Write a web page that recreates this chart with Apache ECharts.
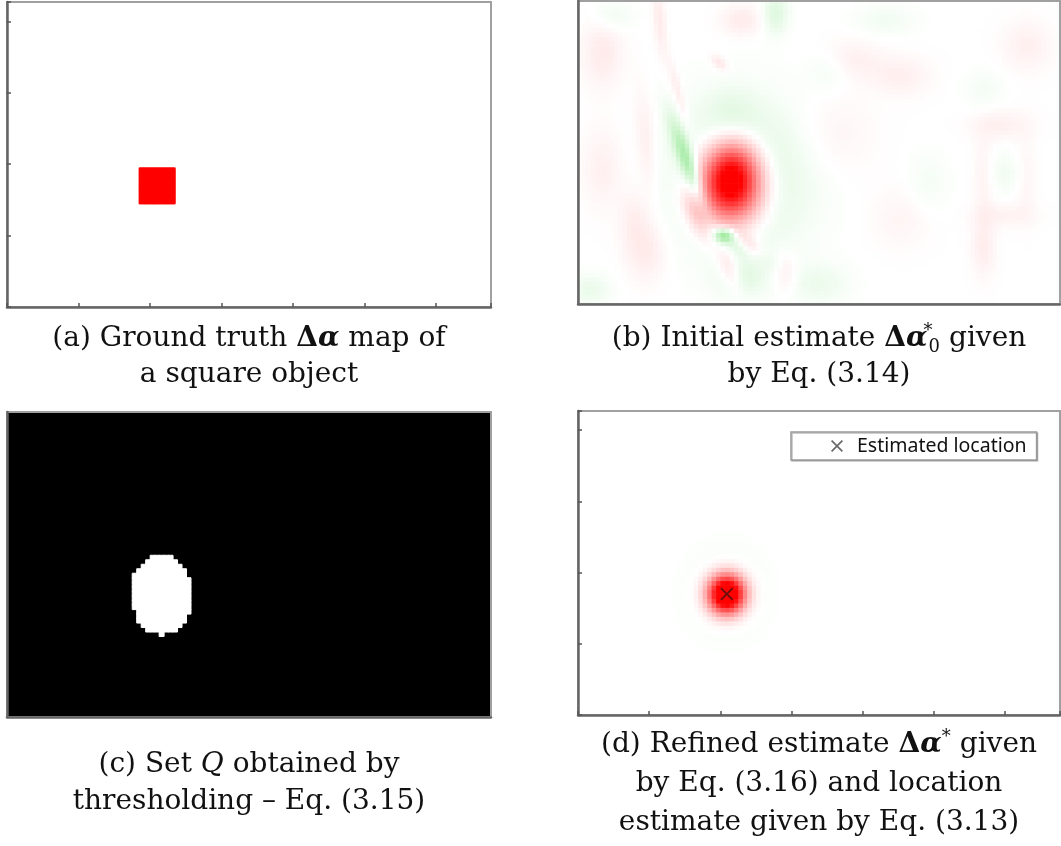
<!DOCTYPE html>
<html><head><meta charset="utf-8">
<script src="https://cdn.jsdelivr.net/npm/echarts@6/dist/echarts.min.js"></script>
<style>html,body{margin:0;padding:0;background:#fff}#c{width:1061px;height:846px}</style>
</head><body><div id="c"></div>
<script>
// ---- axis extent (in tick units, ticks every 1) ----
const xExtent = [0, 6.77];
const yExtent = [0, 4.27];
const nCols = 108, nRows = 68;

// (a) ground-truth square object: [xMin, xMax, yMin, yMax]
const squareObject = [1.85, 2.35, 1.45, 1.94];

// (b) initial estimate, read as blobs: [cx, cy, sAlong, sAcross, angleDeg, amplitude]
const initialEstimateBlobs = [
  [2.15, 1.64, 0.30, 0.34, 0, 1.15],
  [2.18, 2.00, 0.25, 0.26, 0, 0.38],
  [2.28, 1.78, 0.62, 0.68, 0, -0.19],
  [2.15, 2.75, 0.25, 0.22, 0, -0.05],
  [1.55, 1.97, 0.45, 0.08, -70, -0.32],
  [1.42, 2.95, 0.35, 0.05, -75, 0.08],
  [1.99, 3.40, 0.10, 0.06, -45, 0.10],
  [1.69, 1.22, 0.24, 0.11, -63, 0.18],
  [2.06, 0.97, 0.09, 0.07, 0, -0.35],
  [2.20, 0.85, 0.35, 0.08, -30, -0.12],
  [2.42, 0.80, 0.16, 0.09, -50, 0.16],
  [2.13, 0.48, 0.22, 0.10, -70, 0.15],
  [2.30, 0.38, 0.25, 0.20, 0, -0.10],
  [3.38, 0.29, 0.30, 0.20, 0, -0.07],
  [0.35, 3.55, 0.20, 0.35, 0, 0.08],
  [0.35, 1.91, 0.20, 0.40, 0, 0.06],
  [0.96, 2.29, 0.50, 0.10, -85, 0.07],
  [1.15, 4.00, 0.35, 0.06, -85, 0.08],
  [0.96, 0.75, 0.20, 0.30, 0, 0.08],
  [0.79, 1.22, 0.15, 0.30, 0, 0.06],
  [2.30, 4.00, 0.20, 0.15, 0, 0.08],
  [3.84, 3.45, 0.30, 0.20, 0, 0.06],
  [4.54, 3.22, 0.30, 0.20, 0, 0.06],
  [6.31, 3.64, 0.25, 0.25, 0, 0.06],
  [5.94, 2.53, 0.30, 0.15, 0, 0.06],
  [5.70, 1.80, 0.10, 0.40, 0, 0.05],
  [6.30, 1.80, 0.10, 0.40, 0, 0.04],
  [6.00, 1.25, 0.30, 0.12, 0, 0.05],
  [6.00, 1.85, 0.18, 0.20, 0, -0.05],
  [5.70, 0.80, 0.12, 0.30, 0, 0.07],
  [3.62, 2.39, 0.40, 0.40, 0, 0.04],
  [4.54, 1.22, 0.30, 0.30, 0, 0.04],
  [2.92, 0.43, 0.12, 0.20, 0, 0.08],
  [2.78, 4.10, 0.12, 0.20, 0, -0.13],
  [4.32, 4.00, 0.30, 0.15, 0, -0.05],
  [3.52, 3.30, 0.20, 0.20, 0, -0.05],
  [5.70, 3.03, 0.20, 0.20, 0, -0.04],
  [4.92, 1.69, 0.20, 0.30, 0, -0.04],
  [0.17, 0.20, 0.20, 0.15, 0, -0.08],
  [0.49, 4.06, 0.20, 0.15, 0, -0.06]
];

// (c) threshold defining set Q on the initial estimate
const thresholdQ = 0.30;

// (d) refined estimate blobs and estimated location
const refinedEstimateBlobs = [
  [2.09, 1.70, 0.18, 0.19, 0, 1.5],
  [2.09, 1.72, 0.34, 0.38, 0, -0.07]
];
const estimatedLocation = [[2.09, 1.70]];

// ---- build cell grids ----
const dx = (xExtent[1] - xExtent[0]) / nCols, dy = (yExtent[1] - yExtent[0]) / nRows;
const fine = 4, fdx = dx / fine, fdy = dy / fine;
const colCats = Array.from({length: nCols}, (_, i) => i);
const rowCats = Array.from({length: nRows}, (_, j) => j);
const colCatsFine = Array.from({length: nCols * fine}, (_, i) => i);
const rowCatsFine = Array.from({length: nRows * fine}, (_, j) => j);
function fieldAt(blobs, x, y) {
  let v = 0;
  for (const [cx, cy, sa, sc, ang, amp] of blobs) {
    const t = ang * Math.PI / 180, ex = x - cx, ey = y - cy;
    const u = ex * Math.cos(t) + ey * Math.sin(t);
    const w = -ex * Math.sin(t) + ey * Math.cos(t);
    v += amp * Math.exp(-0.5 * ((u / sa) ** 2 + (w / sc) ** 2));
  }
  return Math.max(-1, Math.min(1, v));
}
const cellsA = [], cellsB = [], cellsC = [], cellsD = [];
for (let i = 0; i < nCols * fine; i++) for (let j = 0; j < nRows * fine; j++) {
  const x = xExtent[0] + (i + 0.5) * fdx, y = yExtent[0] + (j + 0.5) * fdy;
  if (x >= squareObject[0] && x <= squareObject[1] && y >= squareObject[2] && y <= squareObject[3]) cellsA.push([i, j, 1]);
}
for (let i = 0; i < nCols; i++) for (let j = 0; j < nRows; j++) {
  const x = xExtent[0] + (i + 0.5) * dx, y = yExtent[0] + (j + 0.5) * dy;
  const vb = fieldAt(initialEstimateBlobs, x, y);
  cellsB.push([i, j, +vb.toFixed(3)]);
  if (vb > thresholdQ) cellsC.push([i, j, 1]);
  cellsD.push([i, j, +fieldAt(refinedEstimateBlobs, x, y).toFixed(3)]);
}

// ---- layout ----
const grids = [
  {left: 7, top: 2, width: 484, height: 305},
  {left: 578, top: 1, width: 482, height: 303},
  {left: 7, top: 412, width: 484, height: 305},
  {left: 578, top: 411, width: 482, height: 304}
];
const showTicks = [true, false, false, true];
const xAxes = [], yAxes = [];
grids.forEach((g, k) => {
  xAxes.push({gridIndex: k, type: 'category', data: k === 0 ? colCatsFine : colCats, show: false});
  xAxes.push({gridIndex: k, type: 'value', min: xExtent[0], max: xExtent[1], interval: 1, position: 'bottom', z: 60,
    axisLine: {show: true, onZero: false, lineStyle: {color: '#666', width: 2.5}},
    axisTick: {show: showTicks[k], inside: true, length: 4, lineStyle: {color: '#555', width: 1.5}},
    axisLabel: {show: false}, splitLine: {show: false}});
  yAxes.push({gridIndex: k, type: 'category', data: k === 0 ? rowCatsFine : rowCats, show: false});
  yAxes.push({gridIndex: k, type: 'value', min: yExtent[0], max: yExtent[1], interval: 1, position: 'left', z: 60,
    axisLine: {show: true, onZero: false, lineStyle: {color: '#666', width: 2.5}},
    axisTick: {show: showTicks[k], inside: true, length: 4, lineStyle: {color: '#555', width: 1.5}},
    axisLabel: {show: false}, splitLine: {show: false}});
});

const xMark = 'path://M1,0L5,4L9,0L10,1L6,5L10,9L9,10L5,6L1,10L0,9L4,5L0,1Z';
const serif = '"DejaVu Serif", "Liberation Serif", serif';
const rich = {
  D: {fontFamily: serif, fontSize: 28, fontWeight: 'bold'},
  a: {fontFamily: serif, fontSize: 28, fontWeight: 'bold', fontStyle: 'italic'},
  Q: {fontFamily: serif, fontSize: 28, fontStyle: 'italic'},
  sup: {fontFamily: serif, fontSize: 18, verticalAlign: 'top', width: 1, lineHeight: 34},
  sup2: {fontFamily: serif, fontSize: 18, verticalAlign: 'top', lineHeight: 34},
  sub: {fontFamily: serif, fontSize: 18, verticalAlign: 'bottom', lineHeight: 34}
};
function cap(text, x, y) {
  return {type: 'text', x: x, y: y, z: 100, style: {text: text, fill: '#111', fontFamily: serif, fontSize: 28,
    align: 'center', verticalAlign: 'middle', textAlign: 'center', textVerticalAlign: 'middle', lineHeight: 34, rich: rich}};
}
function frame(g) {
  return {type: 'rect', z: 50, silent: true, shape: {x: g.left, y: g.top, width: g.width, height: g.height},
    style: {fill: 'none', stroke: '#a0a0a0', lineWidth: 2}};
}

const chart = echarts.init(document.getElementById('c'), null, {renderer: 'canvas'});
chart.setOption({
  animation: false,
  backgroundColor: '#fff',
  grid: grids.map((g, k) => Object.assign({show: true, borderWidth: 0,
    backgroundColor: k === 2 ? '#000' : '#fff'}, g)),
  xAxis: xAxes, yAxis: yAxes,
  visualMap: [
    {type: 'continuous', show: false, seriesIndex: 1, min: -1, max: 1, inRange: {color: ['#00c800', '#ffffff', '#ff0000']}},
    {type: 'continuous', show: false, seriesIndex: 3, min: -1, max: 1, inRange: {color: ['#00c800', '#ffffff', '#ff0000']}}
  ],
  legend: {
    data: [{name: 'Estimated location', icon: xMark}],
    left: 791, top: 432, itemWidth: 12, itemHeight: 12, selectedMode: false,
    padding: [4, 10, 4, 40], borderColor: '#9a9a9a', borderWidth: 1.5, backgroundColor: '#fff',
    shadowColor: 'rgba(0,0,0,0.25)', shadowOffsetX: 1, shadowOffsetY: 1, shadowBlur: 0,
    textStyle: {fontFamily: '"Noto Sans", "Open Sans", sans-serif', fontSize: 19.5, color: '#111', padding: [0, 0, 0, 9]}
  },
  series: [
    {type: 'heatmap', xAxisIndex: 0, yAxisIndex: 0, data: cellsA, progressive: 0,
      itemStyle: {color: '#ff0000', borderColor: '#ff0000', borderWidth: 0.5}, emphasis: {disabled: true}},
    {type: 'heatmap', xAxisIndex: 2, yAxisIndex: 2, data: cellsB, progressive: 0, emphasis: {disabled: true}},
    {type: 'heatmap', xAxisIndex: 4, yAxisIndex: 4, data: cellsC, progressive: 0,
      itemStyle: {color: '#ffffff', borderColor: '#ffffff', borderWidth: 1}, emphasis: {disabled: true}},
    {type: 'heatmap', xAxisIndex: 6, yAxisIndex: 6, data: cellsD, progressive: 0, emphasis: {disabled: true}},
    {type: 'scatter', name: 'Estimated location', xAxisIndex: 7, yAxisIndex: 7, data: estimatedLocation,
      symbol: xMark, symbolSize: 13, z: 20, itemStyle: {color: 'rgba(20,20,20,0.8)'}, emphasis: {disabled: true}}
  ],
  graphic: {elements: grids.map(frame).concat([
    cap('(a) Ground truth {D|Δ}{a|α} map of', 249, 339),
    cap('a square object', 249, 375),
    cap('(b) Initial estimate {D|Δ}{a|α}{sup|*}{sub|0} given', 819, 339),
    cap('by Eq. (3.14)', 819, 375),
    cap('(c) Set {Q|Q} obtained by', 249, 765),
    cap('thresholding – Eq. (3.15)', 249, 802),
    cap('(d) Refined estimate {D|Δ}{a|α}{sup2|*} given', 819, 745),
    cap('by Eq. (3.16) and location', 819, 784),
    cap('estimate given by Eq. (3.13)', 819, 823)
  ])}
});
</script></body></html>
